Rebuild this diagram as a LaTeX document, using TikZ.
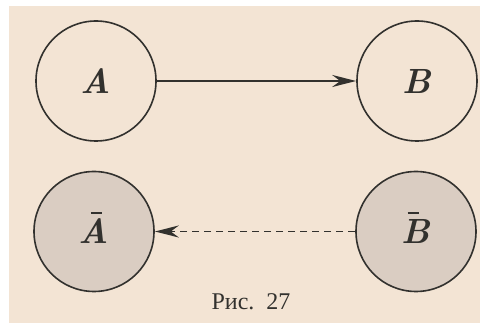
\documentclass[tikz,border=0pt]{standalone}
\usepackage{fontspec}
\newfontfamily\capfont{Liberation Serif}
\usetikzlibrary{arrows.meta}
\definecolor{paper}{RGB}{243,228,212}
\definecolor{shade}{RGB}{218,205,194}
\definecolor{ink}{RGB}{50,49,46}
\newcommand{\barletter}[2]{\rlap{\hspace{#1}\raisebox{30pt}[0pt][0pt]{\rule{11pt}{1.8pt}}}#2}
\tikzset{
  state/.style={circle, draw=ink, line width=1.6pt, minimum size=120pt, inner sep=0pt,
     font=\fontsize{35}{40}\selectfont\bfseries\itshape, text=ink},
  neg/.style={state, fill=shade},
  link/.style={draw=ink, line width=1.7pt, -{Stealth[length=24pt,width=12pt,inset=8pt]}},
}
\begin{document}
\begin{tikzpicture}[x=1pt,y=-1pt]
\fill[white] (0,0) rectangle (480,323);
\fill[paper] (9,6) rectangle (480,323);
\useasboundingbox (0,0) rectangle (480,323);
\node[state] (A) at (96,81) {A};
\node[state] (B) at (417,81) {B};
\node[neg] (nA) at (94,231.5) {\barletter{12pt}{A}};
\node[neg] (nB) at (416,231.5) {\barletter{6pt}{B}};
\draw[link] (A) -- (B);
\draw[link, dash pattern=on 7pt off 5pt] (nB) -- (nA);
\node[font=\capfont\fontsize{24}{28}\selectfont, text=ink] (cap) at (251,302) {Рис.\ \ 27};
\end{tikzpicture}
\end{document}
